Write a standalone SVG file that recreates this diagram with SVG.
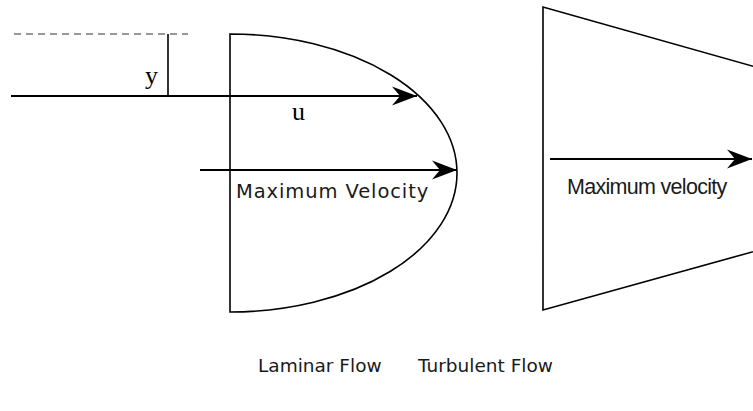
<svg xmlns="http://www.w3.org/2000/svg" width="753" height="411" viewBox="0 0 753 411">
<style>
.ln{stroke:#000;stroke-width:1.6;fill:none}
.ar{stroke:#000;stroke-width:2;fill:none}
.sf{font-family:"Liberation Serif","Times New Roman",serif;font-size:26px;fill:#000}
.dv{font-family:"DejaVu Sans",Verdana,sans-serif;fill:#1a1a1a}
.ls{font-family:"Liberation Sans",Arial,sans-serif;fill:#1a1a1a}
</style>
<defs>
<marker id="ah" markerUnits="userSpaceOnUse" markerWidth="30" markerHeight="24" refX="0" refY="0" viewBox="-26 -12 28 24" orient="auto">
<path d="M0,0 L-25,-9.5 L-17,0 L-25,9.5 Z" fill="#000"/>
</marker>
</defs>
<g id="laminar">
<path class="ln" d="M230,34 A227,139 0 0 1 230,312 Z"/>
</g>
<g id="turbulent">
<path class="ln" d="M770,71 L543,7 L543,310 L770,247"/>
</g>
<g id="guide">
<line x1="14" y1="34" x2="188" y2="34" stroke="#777" stroke-width="1.6" stroke-dasharray="7,5"/>
<line class="ln" x1="168" y1="34" x2="168" y2="96"/>
</g>
<g id="connectors">
<line class="ar" x1="11" y1="96" x2="417" y2="96" marker-end="url(#ah)"/>
<line class="ar" x1="200" y1="170" x2="457" y2="170" marker-end="url(#ah)"/>
<line class="ar" x1="550" y1="159" x2="752" y2="159" marker-end="url(#ah)"/>
</g>
<g id="labels">
<text class="sf" x="145" y="84">y</text>
<text class="sf" x="292" y="120">u</text>
<text class="dv" x="236" y="198" font-size="19.5" letter-spacing="0.9">Maximum Velocity</text>
<text class="ls" x="567" y="194" font-size="21.5" letter-spacing="-0.7">Maximum velocity</text>
<text class="dv" x="258" y="372" font-size="18.5">Laminar Flow</text>
<text class="dv" x="418" y="372" font-size="18.5">Turbulent Flow</text>
</g>
</svg>
